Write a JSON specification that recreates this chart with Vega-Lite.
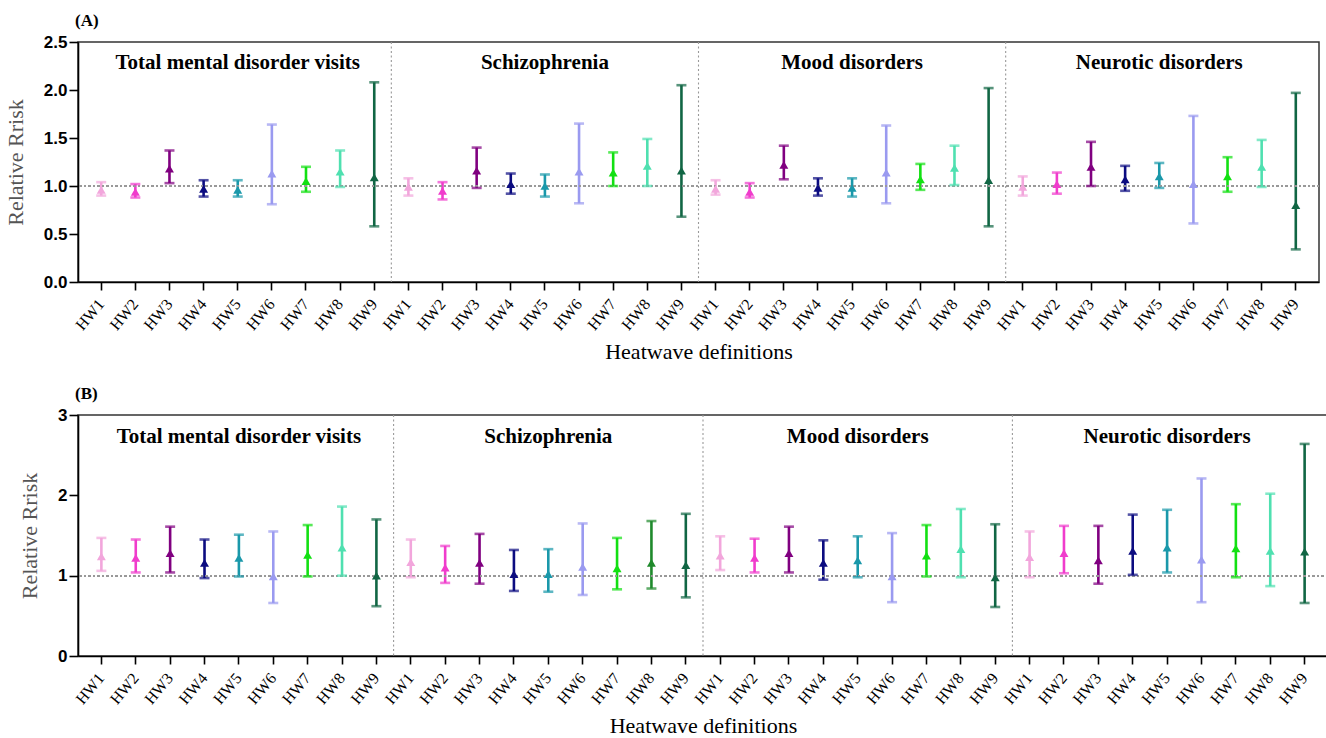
{
  "$schema": "https://vega.github.io/schema/vega-lite/v6.json",
  "background": "white",
  "padding": {"left": 3, "top": 11, "right": 2, "bottom": 2},
  "spacing": 20,
  "datasets": {
    "a": [
      {"g": "Total mental disorder visits", "k": "T1", "hw": "HW1", "rr": 0.96, "lo": 0.90, "hi": 1.04},
      {"g": "Total mental disorder visits", "k": "T2", "hw": "HW2", "rr": 0.94, "lo": 0.88, "hi": 1.02},
      {"g": "Total mental disorder visits", "k": "T3", "hw": "HW3", "rr": 1.18, "lo": 1.03, "hi": 1.37},
      {"g": "Total mental disorder visits", "k": "T4", "hw": "HW4", "rr": 0.97, "lo": 0.89, "hi": 1.06},
      {"g": "Total mental disorder visits", "k": "T5", "hw": "HW5", "rr": 0.96, "lo": 0.89, "hi": 1.06},
      {"g": "Total mental disorder visits", "k": "T6", "hw": "HW6", "rr": 1.13, "lo": 0.81, "hi": 1.64},
      {"g": "Total mental disorder visits", "k": "T7", "hw": "HW7", "rr": 1.05, "lo": 0.94, "hi": 1.20},
      {"g": "Total mental disorder visits", "k": "T8", "hw": "HW8", "rr": 1.15, "lo": 0.99, "hi": 1.37},
      {"g": "Total mental disorder visits", "k": "T9", "hw": "HW9", "rr": 1.09, "lo": 0.58, "hi": 2.08},
      {"g": "Schizophrenia", "k": "S1", "hw": "HW1", "rr": 0.99, "lo": 0.90, "hi": 1.08},
      {"g": "Schizophrenia", "k": "S2", "hw": "HW2", "rr": 0.95, "lo": 0.86, "hi": 1.04},
      {"g": "Schizophrenia", "k": "S3", "hw": "HW3", "rr": 1.16, "lo": 0.98, "hi": 1.40},
      {"g": "Schizophrenia", "k": "S4", "hw": "HW4", "rr": 1.02, "lo": 0.92, "hi": 1.13},
      {"g": "Schizophrenia", "k": "S5", "hw": "HW5", "rr": 1.00, "lo": 0.89, "hi": 1.12},
      {"g": "Schizophrenia", "k": "S6", "hw": "HW6", "rr": 1.15, "lo": 0.82, "hi": 1.65},
      {"g": "Schizophrenia", "k": "S7", "hw": "HW7", "rr": 1.14, "lo": 1.00, "hi": 1.35},
      {"g": "Schizophrenia", "k": "S8", "hw": "HW8", "rr": 1.21, "lo": 1.00, "hi": 1.49},
      {"g": "Schizophrenia", "k": "S9", "hw": "HW9", "rr": 1.16, "lo": 0.68, "hi": 2.05},
      {"g": "Mood disorders", "k": "M1", "hw": "HW1", "rr": 0.97, "lo": 0.91, "hi": 1.06},
      {"g": "Mood disorders", "k": "M2", "hw": "HW2", "rr": 0.94, "lo": 0.88, "hi": 1.03},
      {"g": "Mood disorders", "k": "M3", "hw": "HW3", "rr": 1.22, "lo": 1.07, "hi": 1.42},
      {"g": "Mood disorders", "k": "M4", "hw": "HW4", "rr": 0.98, "lo": 0.90, "hi": 1.08},
      {"g": "Mood disorders", "k": "M5", "hw": "HW5", "rr": 0.98, "lo": 0.89, "hi": 1.08},
      {"g": "Mood disorders", "k": "M6", "hw": "HW6", "rr": 1.14, "lo": 0.82, "hi": 1.63},
      {"g": "Mood disorders", "k": "M7", "hw": "HW7", "rr": 1.07, "lo": 0.96, "hi": 1.23},
      {"g": "Mood disorders", "k": "M8", "hw": "HW8", "rr": 1.19, "lo": 1.01, "hi": 1.42},
      {"g": "Mood disorders", "k": "M9", "hw": "HW9", "rr": 1.06, "lo": 0.58, "hi": 2.02},
      {"g": "Neurotic disorders", "k": "N1", "hw": "HW1", "rr": 0.99, "lo": 0.90, "hi": 1.10},
      {"g": "Neurotic disorders", "k": "N2", "hw": "HW2", "rr": 1.02, "lo": 0.92, "hi": 1.14},
      {"g": "Neurotic disorders", "k": "N3", "hw": "HW3", "rr": 1.20, "lo": 1.00, "hi": 1.46},
      {"g": "Neurotic disorders", "k": "N4", "hw": "HW4", "rr": 1.07, "lo": 0.95, "hi": 1.21},
      {"g": "Neurotic disorders", "k": "N5", "hw": "HW5", "rr": 1.10, "lo": 0.98, "hi": 1.24},
      {"g": "Neurotic disorders", "k": "N6", "hw": "HW6", "rr": 1.02, "lo": 0.61, "hi": 1.73},
      {"g": "Neurotic disorders", "k": "N7", "hw": "HW7", "rr": 1.10, "lo": 0.94, "hi": 1.30},
      {"g": "Neurotic disorders", "k": "N8", "hw": "HW8", "rr": 1.20, "lo": 0.99, "hi": 1.48},
      {"g": "Neurotic disorders", "k": "N9", "hw": "HW9", "rr": 0.80, "lo": 0.34, "hi": 1.97}
    ],
    "b": [
      {"g": "Total mental disorder visits", "k": "T1", "hw": "HW1", "rr": 1.24, "lo": 1.06, "hi": 1.47},
      {"g": "Total mental disorder visits", "k": "T2", "hw": "HW2", "rr": 1.22, "lo": 1.04, "hi": 1.45},
      {"g": "Total mental disorder visits", "k": "T3", "hw": "HW3", "rr": 1.28, "lo": 1.04, "hi": 1.61},
      {"g": "Total mental disorder visits", "k": "T4", "hw": "HW4", "rr": 1.16, "lo": 0.97, "hi": 1.45},
      {"g": "Total mental disorder visits", "k": "T5", "hw": "HW5", "rr": 1.22, "lo": 0.99, "hi": 1.51},
      {"g": "Total mental disorder visits", "k": "T6", "hw": "HW6", "rr": 0.99, "lo": 0.66, "hi": 1.55},
      {"g": "Total mental disorder visits", "k": "T7", "hw": "HW7", "rr": 1.26, "lo": 0.99, "hi": 1.63},
      {"g": "Total mental disorder visits", "k": "T8", "hw": "HW8", "rr": 1.35, "lo": 1.00, "hi": 1.86},
      {"g": "Total mental disorder visits", "k": "T9", "hw": "HW9", "rr": 1.00, "lo": 0.62, "hi": 1.70},
      {"g": "Schizophrenia", "k": "S1", "hw": "HW1", "rr": 1.17, "lo": 0.98, "hi": 1.45},
      {"g": "Schizophrenia", "k": "S2", "hw": "HW2", "rr": 1.10, "lo": 0.91, "hi": 1.37},
      {"g": "Schizophrenia", "k": "S3", "hw": "HW3", "rr": 1.16, "lo": 0.90, "hi": 1.52},
      {"g": "Schizophrenia", "k": "S4", "hw": "HW4", "rr": 1.02, "lo": 0.81, "hi": 1.32},
      {"g": "Schizophrenia", "k": "S5", "hw": "HW5", "rr": 1.02, "lo": 0.80, "hi": 1.33},
      {"g": "Schizophrenia", "k": "S6", "hw": "HW6", "rr": 1.11, "lo": 0.76, "hi": 1.65},
      {"g": "Schizophrenia", "k": "S7", "hw": "HW7", "rr": 1.09, "lo": 0.83, "hi": 1.47},
      {"g": "Schizophrenia", "k": "S8", "hw": "HW8", "rr": 1.16, "lo": 0.84, "hi": 1.68},
      {"g": "Schizophrenia", "k": "S9", "hw": "HW9", "rr": 1.13, "lo": 0.73, "hi": 1.77},
      {"g": "Mood disorders", "k": "M1", "hw": "HW1", "rr": 1.25, "lo": 1.07, "hi": 1.49},
      {"g": "Mood disorders", "k": "M2", "hw": "HW2", "rr": 1.22, "lo": 1.04, "hi": 1.46},
      {"g": "Mood disorders", "k": "M3", "hw": "HW3", "rr": 1.28, "lo": 1.04, "hi": 1.61},
      {"g": "Mood disorders", "k": "M4", "hw": "HW4", "rr": 1.16, "lo": 0.95, "hi": 1.44},
      {"g": "Mood disorders", "k": "M5", "hw": "HW5", "rr": 1.19, "lo": 0.98, "hi": 1.49},
      {"g": "Mood disorders", "k": "M6", "hw": "HW6", "rr": 0.99, "lo": 0.67, "hi": 1.53},
      {"g": "Mood disorders", "k": "M7", "hw": "HW7", "rr": 1.25, "lo": 0.99, "hi": 1.63},
      {"g": "Mood disorders", "k": "M8", "hw": "HW8", "rr": 1.33, "lo": 0.98, "hi": 1.83},
      {"g": "Mood disorders", "k": "M9", "hw": "HW9", "rr": 0.98, "lo": 0.61, "hi": 1.64},
      {"g": "Neurotic disorders", "k": "N1", "hw": "HW1", "rr": 1.23, "lo": 0.98, "hi": 1.55},
      {"g": "Neurotic disorders", "k": "N2", "hw": "HW2", "rr": 1.28, "lo": 1.03, "hi": 1.62},
      {"g": "Neurotic disorders", "k": "N3", "hw": "HW3", "rr": 1.19, "lo": 0.90, "hi": 1.62},
      {"g": "Neurotic disorders", "k": "N4", "hw": "HW4", "rr": 1.31, "lo": 1.01, "hi": 1.76},
      {"g": "Neurotic disorders", "k": "N5", "hw": "HW5", "rr": 1.35, "lo": 1.04, "hi": 1.82},
      {"g": "Neurotic disorders", "k": "N6", "hw": "HW6", "rr": 1.20, "lo": 0.67, "hi": 2.21},
      {"g": "Neurotic disorders", "k": "N7", "hw": "HW7", "rr": 1.34, "lo": 0.98, "hi": 1.89},
      {"g": "Neurotic disorders", "k": "N8", "hw": "HW8", "rr": 1.31, "lo": 0.87, "hi": 2.02},
      {"g": "Neurotic disorders", "k": "N9", "hw": "HW9", "rr": 1.30, "lo": 0.66, "hi": 2.64}
    ]
  },
  "config": {
    "view": {"stroke": "#333333", "strokeWidth": 1.5},
    "axis": {
      "domainColor": "#000000", "domainWidth": 1.6, "tickColor": "#000000", "tickWidth": 1.6,
      "grid": false, "labelColor": "#000000", "titleColor": "#000000"
    },
    "axisX": {
      "labelAngle": -50, "labelAlign": "right", "labelBaseline": "middle", "labelPadding": 11,
      "labelFont": "Liberation Serif", "labelFontSize": 16, "tickSize": 8,
      "titleFont": "Liberation Serif", "titleFontSize": 22, "titleFontWeight": "normal", "titlePadding": 9
    },
    "axisY": {
      "labelFont": "Liberation Sans", "labelFontWeight": "bold", "labelFontSize": 17, "labelPadding": 2, "tickSize": 9,
      "titleFont": "Liberation Serif", "titleFontSize": 22, "titleFontWeight": "normal", "titleColor": "#555555", "titlePadding": 16
    },
    "title": {"font": "Liberation Serif", "fontWeight": "bold", "fontSize": 17, "anchor": "start", "frame": "group", "color": "#000000"}
  },
  "vconcat": [
    {
      "width": 1241, "height": 240,
      "title": {"text": "(A)", "offset": 3, "dx": -3},
      "data": {"name": "a"},
      "layer": [
        {"mark": {"type": "rule", "strokeWidth": 2.6},
         "encoding": {
           "x": {"field": "k", "type": "nominal", "sort": null,
             "scale": {"type": "band", "paddingInner": 0, "paddingOuter": 0.18},
             "axis": {"title": "Heatwave definitions", "labelExpr": "'HW' + substring(datum.label, 1)"}},
           "y": {"field": "lo", "type": "quantitative",
             "scale": {"domain": [0, 2.5], "nice": false, "zero": true},
             "axis": {"title": "Relative Rrisk", "values": [0, 0.5, 1, 1.5, 2, 2.5], "format": ".1f"}},
           "y2": {"field": "hi"},
           "color": {"field": "hw", "type": "nominal", "legend": null,
             "scale": {"domain": ["HW1","HW2","HW3","HW4","HW5","HW6","HW7","HW8","HW9"],
               "range": ["#f2a6dc","#f03ccc","#800080","#0c0c80","#1a98aa","#9a9af0","#12e012","#4fe0b0","#116644"]}}
         }},
        {"mark": {"type": "rule", "color": "#999999", "strokeDash": [2, 2.5], "strokeWidth": 1.1},
         "encoding": {"y": {"datum": 1, "type": "quantitative"}}},
        {"transform": [{"filter": "datum.hw === 'HW9' && datum.k !== 'N9'"}],
         "mark": {"type": "rule", "color": "#999999", "strokeDash": [2, 2.5], "strokeWidth": 1.1},
         "encoding": {"x": {"field": "k", "type": "nominal", "sort": null, "bandPosition": 1}}},
        {"mark": {"type": "tick", "thickness": 2.6, "size": 10},
         "encoding": {"x": {"field": "k", "type": "nominal", "sort": null},
           "y": {"field": "lo", "type": "quantitative"},
           "color": {"field": "hw", "type": "nominal", "legend": null}}},
        {"mark": {"type": "tick", "thickness": 2.6, "size": 10},
         "encoding": {"x": {"field": "k", "type": "nominal", "sort": null},
           "y": {"field": "hi", "type": "quantitative"},
           "color": {"field": "hw", "type": "nominal", "legend": null}}},
        {"mark": {"type": "point", "shape": "triangle-up", "filled": true, "opacity": 1, "size": 80},
         "encoding": {"x": {"field": "k", "type": "nominal", "sort": null},
           "y": {"field": "rr", "type": "quantitative"},
           "color": {"field": "hw", "type": "nominal", "legend": null}}},
        {"transform": [{"filter": "datum.hw === 'HW5'"}],
         "mark": {"type": "text", "font": "Liberation Serif", "fontWeight": "bold", "fontSize": 21, "color": "#000000", "baseline": "middle"},
         "encoding": {"x": {"field": "k", "type": "nominal", "sort": null},
           "y": {"datum": 2.28, "type": "quantitative"}, "text": {"field": "g"}}}
      ]
    },
    {
      "width": 1250, "height": 241,
      "title": {"text": "(B)", "offset": 3, "dx": -3},
      "data": {"name": "b"},
      "layer": [
        {"mark": {"type": "rule", "strokeWidth": 2.6},
         "encoding": {
           "x": {"field": "k", "type": "nominal", "sort": null,
             "scale": {"type": "band", "paddingInner": 0, "paddingOuter": 0.18},
             "axis": {"title": "Heatwave definitions", "labelExpr": "'HW' + substring(datum.label, 1)"}},
           "y": {"field": "lo", "type": "quantitative",
             "scale": {"domain": [0, 3], "nice": false, "zero": true},
             "axis": {"title": "Relative Rrisk", "values": [0, 1, 2, 3], "format": "d"}},
           "y2": {"field": "hi"},
           "color": {"field": "hw", "type": "nominal", "legend": null,
             "condition": {"test": "datum.k === 'S8'", "value": "#1f8a2c"},
             "scale": {"domain": ["HW1","HW2","HW3","HW4","HW5","HW6","HW7","HW8","HW9"],
               "range": ["#f2a6dc","#f03ccc","#800080","#0c0c80","#1a98aa","#9a9af0","#12e012","#4fe0b0","#116644"]}}
         }},
        {"mark": {"type": "rule", "color": "#999999", "strokeDash": [2, 2.5], "strokeWidth": 1.1},
         "encoding": {"y": {"datum": 1, "type": "quantitative"}}},
        {"transform": [{"filter": "datum.hw === 'HW9' && datum.k !== 'N9'"}],
         "mark": {"type": "rule", "color": "#999999", "strokeDash": [2, 2.5], "strokeWidth": 1.1},
         "encoding": {"x": {"field": "k", "type": "nominal", "sort": null, "bandPosition": 1}}},
        {"mark": {"type": "tick", "thickness": 2.6, "size": 10},
         "encoding": {"x": {"field": "k", "type": "nominal", "sort": null},
           "y": {"field": "lo", "type": "quantitative"},
           "color": {"field": "hw", "type": "nominal", "legend": null, "condition": {"test": "datum.k === 'S8'", "value": "#1f8a2c"}}}},
        {"mark": {"type": "tick", "thickness": 2.6, "size": 10},
         "encoding": {"x": {"field": "k", "type": "nominal", "sort": null},
           "y": {"field": "hi", "type": "quantitative"},
           "color": {"field": "hw", "type": "nominal", "legend": null, "condition": {"test": "datum.k === 'S8'", "value": "#1f8a2c"}}}},
        {"mark": {"type": "point", "shape": "triangle-up", "filled": true, "opacity": 1, "size": 80},
         "encoding": {"x": {"field": "k", "type": "nominal", "sort": null},
           "y": {"field": "rr", "type": "quantitative"},
           "color": {"field": "hw", "type": "nominal", "legend": null, "condition": {"test": "datum.k === 'S8'", "value": "#1f8a2c"}}}},
        {"transform": [{"filter": "datum.hw === 'HW5'"}],
         "mark": {"type": "text", "font": "Liberation Serif", "fontWeight": "bold", "fontSize": 21, "color": "#000000", "baseline": "middle"},
         "encoding": {"x": {"field": "k", "type": "nominal", "sort": null},
           "y": {"datum": 2.72, "type": "quantitative"}, "text": {"field": "g"}}}
      ]
    }
  ]
}
